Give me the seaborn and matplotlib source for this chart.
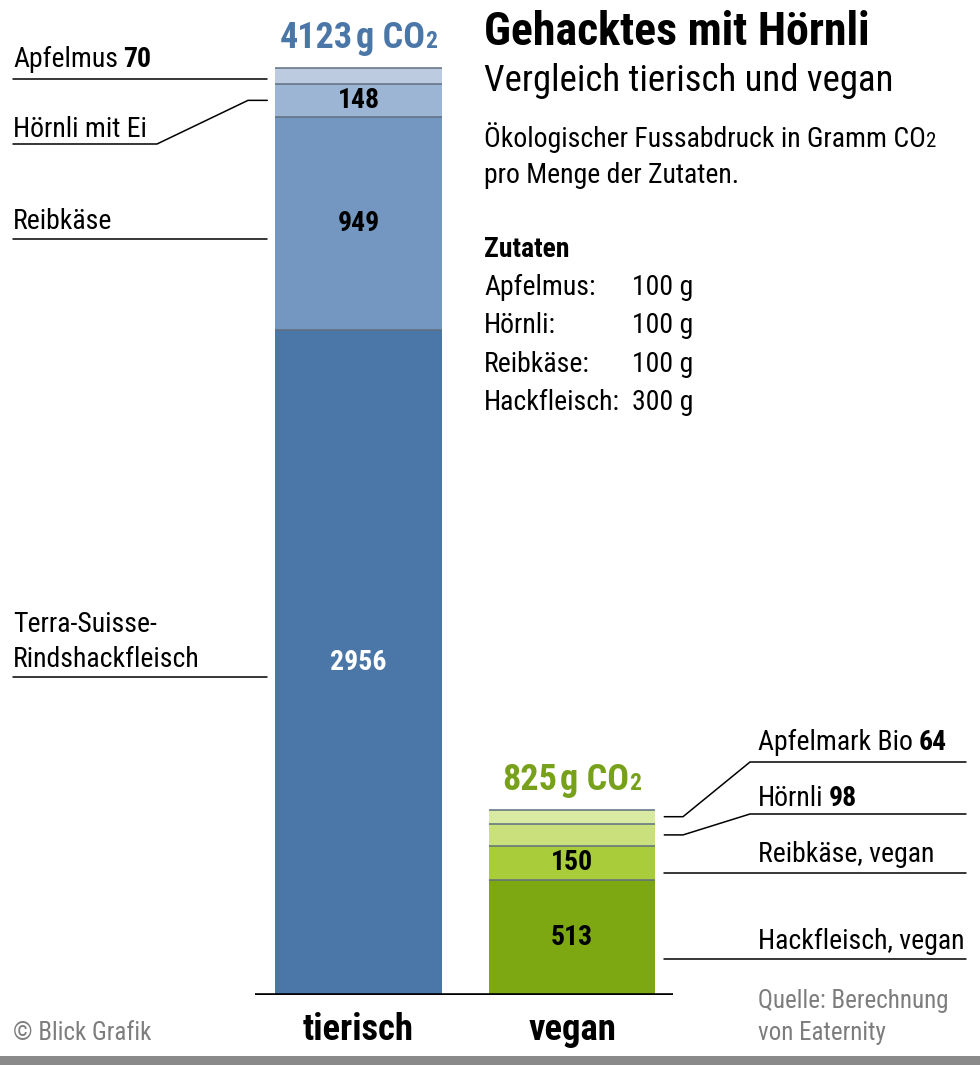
import matplotlib
matplotlib.use("Agg")
import matplotlib.pyplot as plt
import seaborn as sns
import pandas as pd
from matplotlib import font_manager
from matplotlib.patches import Rectangle

sns.set_theme(style="white")

# --- Daten ---
categories = ["tierisch", "vegan"]
tier_labels = ["Terra-Suisse-\nRindshackfleisch", "Reibkäse", "Hörnli mit Ei", "Apfelmus"]
tier_values = [2956, 949, 148, 70]
vegan_labels = ["Hackfleisch, vegan", "Reibkäse, vegan", "Hörnli", "Apfelmark Bio"]
vegan_values = [513, 150, 98, 64]
zutaten = ["Apfelmus", "Hörnli", "Reibkäse", "Hackfleisch"]
mengen = [100, 100, 100, 300]

tier_colors = ["#4a77a8", "#7397c0", "#9db5d4", "#bccbdf"]
vegan_colors = ["#7ea812", "#a9cc3a", "#c9e07c", "#d9eaa2"]
blue_txt = "#4a77a8"
green_txt = "#77a11a"

# Schrift: schmale Familie, falls vorhanden
avail = {f.name for f in font_manager.fontManager.ttflist}
cond = next((f for f in ["Liberation Sans Narrow", "Roboto Condensed", "DejaVu Sans"] if f in avail), "DejaVu Sans")
plt.rcParams["font.family"] = [cond, "DejaVu Sans"]
plt.rcParams["text.color"] = "black"

W, H = 980, 1065
fig = plt.figure(figsize=(W / 100, H / 100), dpi=100)
fig.patch.set_facecolor("white")

# Hintergrund-Achse in Pixel-Koordinaten (fuer Texte und Hinweislinien)
bg = fig.add_axes([0, 0, 1, 1], zorder=0)
bg.set_xlim(0, W)
bg.set_ylim(H, 0)
bg.axis("off")

# Balken-Achse
ax = fig.add_axes([255 / W, (H - 995) / H, (673 - 255) / W, 995 / H], zorder=1)
ax.patch.set_alpha(0)

# gestapelte Balken: kumulierte Summen, von oben nach unten gezeichnet
df = pd.DataFrame({"kat": categories})
cum_t = pd.Series(tier_values).cumsum().tolist()
cum_v = pd.Series(vegan_values).cumsum().tolist()
bar_w = 0.78
for lvl in reversed(range(4)):
    df["wert"] = [cum_t[lvl], cum_v[lvl]]
    sns.barplot(data=df, x="kat", y="wert", hue="kat", order=categories,
                palette=[tier_colors[lvl], vegan_colors[lvl]], legend=False,
                width=bar_w, saturation=1, linewidth=0, ax=ax)

ax.set_xlim(-0.485, 1.473)
ax.set_ylim(0, 995 / 0.22484)
ax.axis("off")
ax.axhline(0, color="black", lw=2.6, zorder=5)

# Trennlinien zwischen den Segmenten
for i, cums in enumerate([cum_t, cum_v]):
    ax.hlines(cums, i - bar_w / 2, i + bar_w / 2, color="#5f6f80", lw=1.1, zorder=4)


def to_px(x, y):
    d = ax.transData.transform((x, y))
    return bg.transData.inverted().transform(d)


def chain(x, y, parts, **kw):
    arts = []
    for i, (s, extra) in enumerate(parts):
        props = {**kw, **extra}
        gap = props.pop("gap", 0)
        if i == 0:
            t = bg.text(x, y, s, va="baseline", ha="left", **props)
        else:
            t = bg.annotate(s, xy=(1, y), xycoords=(arts[-1], "data"),
                            xytext=(gap, 0), textcoords="offset points",
                            va="baseline", ha="left", **props)
        arts.append(t)
    return arts


LBL = 20
BOLD = {"fontweight": "bold"}

# Werte in den Balken
segs = [(0, tier_values, cum_t, ["white", "black", "black", None]),
        (1, vegan_values, cum_v, ["black", "black", None, None])]
for i, vals, cums, cols in segs:
    for lvl, (v, c) in enumerate(zip(vals, cums)):
        if cols[lvl] is None:
            continue
        ax.text(i, c - v / 2, f"{v}", ha="center", va="center", fontsize=20,
                fontweight="bold", color=cols[lvl], zorder=6)

# Totale ueber den Balken
fig.canvas.draw()
for i, (cums, col) in enumerate([(cum_t, blue_txt), (cum_v, green_txt)]):
    cx, ty = to_px(i, cums[-1])
    arts = chain(cx, ty - 20, [(f"{cums[-1]}", {}), ("g CO", {"gap": 2}), ("2", {"fontsize": 17})],
                 fontsize=26, fontweight="bold", color=col)
    fig.canvas.draw()
    x0 = arts[0].get_window_extent().x0
    x1 = arts[-1].get_window_extent().x1
    arts[0].set_x(cx - (x1 - x0) / 2)

# Kategorie-Beschriftung unten
for i, cat in enumerate(categories):
    cx, _ = to_px(i, 0)
    bg.text(cx, 1040, cat, ha="center", va="baseline", fontsize=26.5, fontweight="bold")

# linke Beschriftungen (tierisch)
lk = dict(color="black", lw=1.1)
bar_l, _ = to_px(-bar_w / 2, 0)
chain(13, 67, [("Apfelmus", {}), (f"{tier_values[3]}", {**BOLD, "gap": 4})], fontsize=LBL)
bg.plot([13, bar_l - 8], [79, 79], **lk)
_, yh = to_px(0, cum_t[2] - tier_values[2] / 2)
bg.text(13, 137, tier_labels[2], fontsize=LBL, va="baseline")
bg.plot([13, 157, 248, bar_l - 8], [144, 144, yh, yh], **lk)
bg.text(13, 229, tier_labels[1], fontsize=LBL, va="baseline")
bg.plot([13, bar_l - 8], [239, 239], **lk)
for k, line in enumerate(tier_labels[0].split("\n")):
    bg.text(13, 632 + 35 * k, line, fontsize=LBL, va="baseline")
bg.plot([13, bar_l - 8], [677, 677], **lk)

# rechte Beschriftungen (vegan)
bar_r, _ = to_px(1 + bar_w / 2, 0)
rx = 758
chain(rx, 750, [(vegan_labels[3], {}), (f"{vegan_values[3]}", {**BOLD, "gap": 4})], fontsize=LBL)
_, ya = to_px(1, cum_v[3] - vegan_values[3] / 2)
bg.plot([bar_r + 9, 683, 750, 966], [ya, ya, 762, 762], **lk)
chain(rx, 806, [(vegan_labels[2], {}), (f"{vegan_values[2]}", {**BOLD, "gap": 4})], fontsize=LBL)
_, yb = to_px(1, cum_v[2] - vegan_values[2] / 2)
bg.plot([bar_r + 9, 683, 750, 966], [yb, yb, 814, 814], **lk)
bg.text(rx, 862, vegan_labels[1], fontsize=LBL, va="baseline")
bg.plot([bar_r + 9, 966], [873, 873], **lk)
bg.text(rx, 949, vegan_labels[0], fontsize=LBL, va="baseline")
bg.plot([bar_r + 9, 966], [959, 959], **lk)

# Titelblock
tx = 484
bg.text(tx, 45, "Gehacktes mit Hörnli", fontsize=33, fontweight="bold", va="baseline")
bg.text(tx, 91, "Vergleich tierisch und vegan", fontsize=26.5, va="baseline")
chain(tx, 147, [("Ökologischer Fussabdruck in Gramm CO", {}), ("2", {"fontsize": 15})], fontsize=LBL)
bg.text(tx, 183, "pro Menge der Zutaten.", fontsize=LBL, va="baseline")
bg.text(tx, 257, "Zutaten", fontsize=LBL, fontweight="bold", va="baseline")
for k, (name, m) in enumerate(zip(zutaten, mengen)):
    y = 295 + 38.3 * k
    bg.text(tx, y, f"{name}:", fontsize=LBL, va="baseline")
    bg.text(632, y, f"{m} g", fontsize=LBL, va="baseline")

# Fusszeile
grey = "#7d7d7d"
bg.text(13, 1040, "© Blick Grafik", fontsize=18, color=grey, va="baseline")
bg.text(758, 1008, "Quelle: Berechnung", fontsize=18, color=grey, va="baseline")
bg.text(758, 1040, "von Eaternity", fontsize=18, color=grey, va="baseline")
bg.add_patch(Rectangle((0, 1056), W, 9, color="#8a8a8a", lw=0))

fig.savefig("out.png", dpi=100, facecolor="white")
